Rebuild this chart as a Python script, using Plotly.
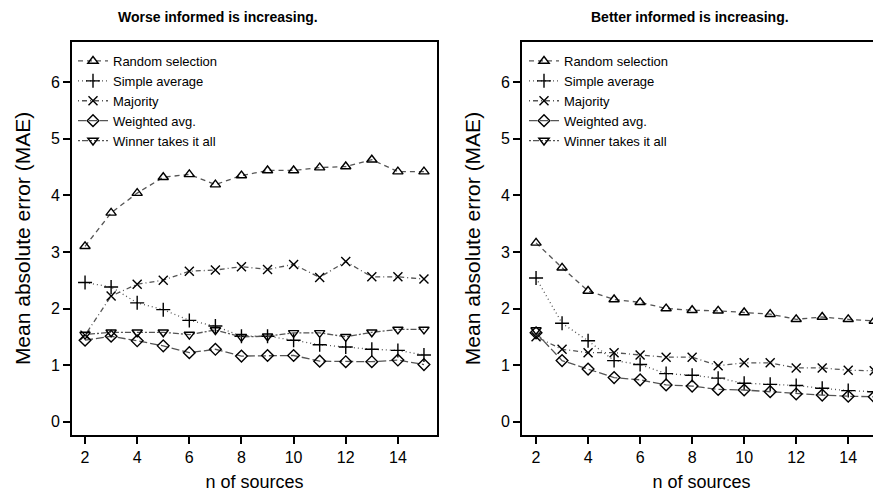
import plotly.graph_objects as go

n_sources = [2, 3, 4, 5, 6, 7, 8, 9, 10, 11, 12, 13, 14, 15]

series_names = ["Random selection", "Simple average", "Majority", "Weighted avg.", "Winner takes it all"]

# Left panel: "Worse informed is increasing."
worse_random = [3.10, 3.69, 4.04, 4.32, 4.37, 4.19, 4.35, 4.44, 4.44, 4.49, 4.51, 4.63, 4.42, 4.42]
worse_simple = [2.46, 2.38, 2.10, 1.98, 1.79, 1.69, 1.51, 1.51, 1.44, 1.36, 1.32, 1.28, 1.26, 1.18]
worse_majority = [1.53, 2.22, 2.43, 2.50, 2.66, 2.68, 2.74, 2.69, 2.78, 2.55, 2.83, 2.56, 2.56, 2.52]
worse_weighted = [1.44, 1.51, 1.43, 1.34, 1.22, 1.28, 1.16, 1.17, 1.17, 1.07, 1.06, 1.06, 1.09, 1.01]
worse_winner = [1.54, 1.58, 1.58, 1.58, 1.54, 1.62, 1.50, 1.51, 1.57, 1.57, 1.50, 1.58, 1.63, 1.63]

# Right panel: "Better informed is increasing."
better_random = [3.16, 2.72, 2.31, 2.16, 2.11, 2.00, 1.97, 1.96, 1.93, 1.90, 1.81, 1.85, 1.81, 1.78]
better_simple = [2.54, 1.74, 1.43, 1.08, 1.01, 0.85, 0.82, 0.77, 0.68, 0.66, 0.64, 0.59, 0.55, 0.53]
better_majority = [1.50, 1.28, 1.22, 1.22, 1.18, 1.14, 1.14, 0.99, 1.04, 1.04, 0.95, 0.95, 0.91, 0.90]
better_weighted = [1.57, 1.08, 0.93, 0.78, 0.74, 0.65, 0.63, 0.57, 0.56, 0.53, 0.49, 0.47, 0.45, 0.44]
better_winner = [1.62, None, None, None, None, None, None, None, None, None, None, None, None, None]

y_ticks = [0, 1, 2, 3, 4, 5, 6]
x_ticks = [2, 4, 6, 8, 10, 12, 14]

symbols = ["triangle-up-open", "cross-thin-open", "x-thin-open", "diamond-open", "triangle-down-open"]
dashes = ["5px,4px", "1px,3px", "1px,3px,5px,3px", "8px,3px", "2px,2px,6px,2px"]
sizes = [9, 10, 9, 9, 9]

FONT = "Liberation Sans, Arial, sans-serif"
fig = go.Figure()

panels = [
    ([worse_random, worse_simple, worse_majority, worse_weighted, worse_winner], "x", "y", "legend"),
    ([better_random, better_simple, better_majority, better_weighted, better_winner], "x2", "y2", "legend2"),
]
for data, xa, ya, lg in panels:
    for name, vals, sym, dash, sz in zip(series_names, data, symbols, dashes, sizes):
        fig.add_trace(go.Scatter(
            x=n_sources, y=vals, name=name, mode="lines+markers",
            xaxis=xa, yaxis=ya, legend=lg, connectgaps=False,
            line=dict(color="#555555", width=1.3, dash=dash),
            marker=dict(symbol=sym, size=sz, color="black",
                        line=dict(color="black", width=1.4)),
        ))

# page body adds an 8px offset; the figure fills the rest of the 881x500 window
OFF = 8
W, H = 881 - OFF, 500 - OFF


def px_x(s):
    return (s - OFF) / W


def px_y(s):
    return (H - (s - OFF)) / H


axis_common = dict(
    showgrid=False, zeroline=False, showline=True, linecolor="black", linewidth=2,
    ticks="outside", ticklen=7, tickwidth=2, tickcolor="black",
    tickfont=dict(family=FONT, size=16, color="black"),
)
xdom1 = [px_x(72), px_x(437)]
xdom2 = [px_x(522), 1.0]
ydom = [px_y(435), px_y(42)]

fig.update_layout(
    width=W, height=H,
    margin=dict(l=0, r=0, t=0, b=0, autoexpand=False),
    paper_bgcolor="white", plot_bgcolor="white",
    font=dict(family=FONT, color="black"),
    xaxis=dict(domain=xdom1, range=[1.5, 15.5], tickvals=x_ticks, mirror=True, anchor="y",
               title=dict(text="n of sources", font=dict(size=18), standoff=10), **axis_common),
    yaxis=dict(domain=ydom, range=[-0.235, 6.71], tickvals=y_ticks, mirror=True, anchor="x",
               title=dict(text="Mean absolute error (MAE)", font=dict(size=21), standoff=15), **axis_common),
    xaxis2=dict(domain=xdom2, range=[1.46, 15.26], tickvals=x_ticks, mirror=True, anchor="y2",
                title=dict(text="n of sources", font=dict(size=18), standoff=10), **axis_common),
    yaxis2=dict(domain=ydom, range=[-0.235, 6.71], tickvals=y_ticks, mirror=False, anchor="x2",
                title=dict(text="Mean absolute error (MAE)", font=dict(size=21), standoff=15), **axis_common),
    legend=dict(x=px_x(73), y=px_y(46), xanchor="left", yanchor="top", bgcolor="rgba(0,0,0,0)",
                font=dict(family=FONT, size=13, color="black"),
                traceorder="normal", tracegroupgap=0),
    legend2=dict(x=px_x(524), y=px_y(46), xanchor="left", yanchor="top", bgcolor="rgba(0,0,0,0)",
                 font=dict(family=FONT, size=13, color="black"),
                 traceorder="normal", tracegroupgap=0),
    annotations=[
        dict(text="<b>Worse informed is increasing.</b>", x=px_x(218), y=px_y(17),
             xref="paper", yref="paper", showarrow=False, xanchor="center", yanchor="middle",
             font=dict(family=FONT, size=14, color="black")),
        dict(text="<b>Better informed is increasing.</b>", x=px_x(690), y=px_y(17),
             xref="paper", yref="paper", showarrow=False, xanchor="center", yanchor="middle",
             font=dict(family=FONT, size=14, color="black")),
    ],
)

fig.write_html("out.html")
